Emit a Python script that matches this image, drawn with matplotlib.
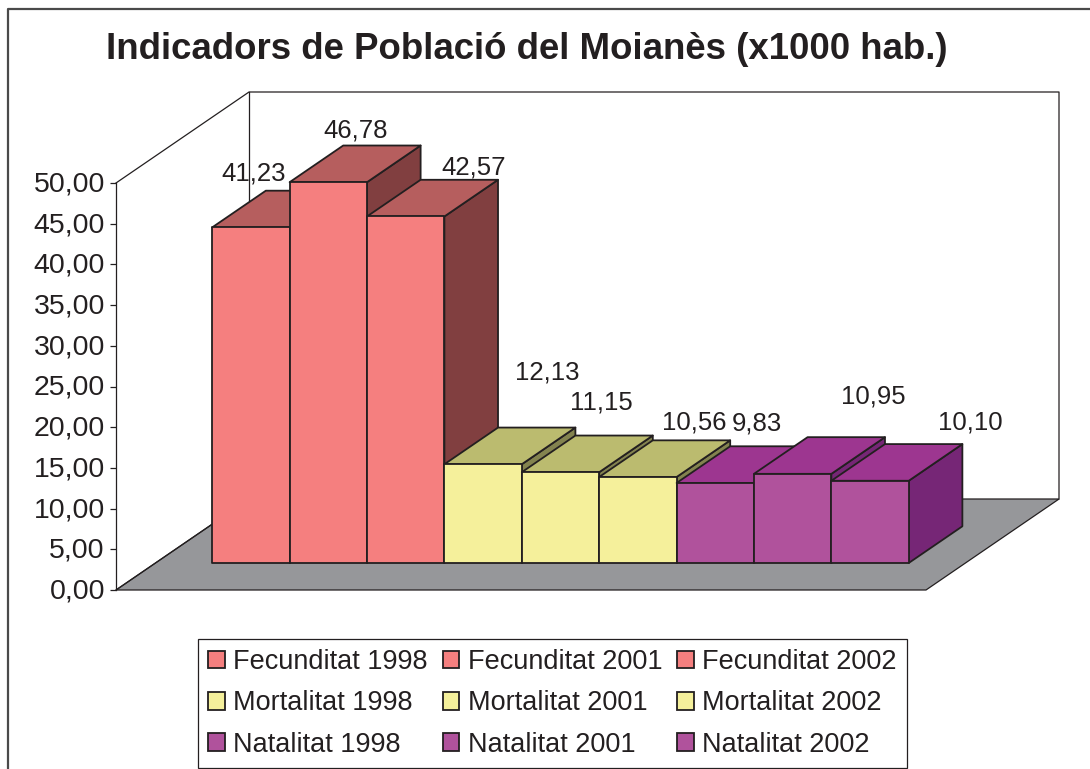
import matplotlib
matplotlib.use("Agg")
import matplotlib.pyplot as plt
from matplotlib.patches import Polygon, Patch
from matplotlib.lines import Line2D
from matplotlib.transforms import ScaledTranslation

plt.rcParams['font.family'] = ['Liberation Sans', 'DejaVu Sans']

TITLE = "Indicadors de Població del Moianès (x1000 hab.)"
categories = ["Fecunditat 1998", "Fecunditat 2001", "Fecunditat 2002",
              "Mortalitat 1998", "Mortalitat 2001", "Mortalitat 2002",
              "Natalitat 1998", "Natalitat 2001", "Natalitat 2002"]
values = [41.23, 46.78, 42.57, 12.13, 11.15, 10.56, 9.83, 10.95, 10.10]
value_labels = ["41,23", "46,78", "42,57", "12,13", "11,15", "10,56", "9,83", "10,95", "10,10"]
y_ticks = [0, 5, 10, 15, 20, 25, 30, 35, 40, 45, 50]
y_tick_labels = ["0,00", "5,00", "10,00", "15,00", "20,00", "25,00",
                 "30,00", "35,00", "40,00", "45,00", "50,00"]

# style / layout (not data)
INK = "#231f20"
FRONT = ["#f57f7f"] * 3 + ["#f5f09b"] * 3 + ["#b0529c"] * 3
TOP = ["#b65e5e"] * 3 + ["#bbbb6f"] * 3 + ["#9d3690"] * 3
SIDE = ["#813f40"] * 3 + ["#83834f"] * 3 + ["#762676"] * 3
FLOOR = "#96979a"
W, H = 1090, 769
AX_L, AX_R, AX_T, AX_B = 116, 926, 183, 590
MARGIN = 0.733
DEPTH_PX = (133, 91)
D0, D1 = 0.297, 0.70
# label offsets from the back-top-centre of each bar, in pixels
LABEL_OFF = [(-51, 17), (-26, 15), (14, 12), (11, 55), (-13, 33), (3, 18), (-12, 23), (27, 41), (47, 22)]

fig = plt.figure(figsize=(W / 100, H / 100), dpi=100, facecolor="white")
ax = fig.add_axes([AX_L / W, 1 - AX_B / H, (AX_R - AX_L) / W, (AX_B - AX_T) / H])
ax.set_xlim(-MARGIN, len(values) - 1 + 1 + MARGIN)
ax.set_ylim(0, 50)
ax.patch.set_visible(False)

sx = (AX_R - AX_L) / (len(values) + 2 * MARGIN)
sy = (AX_B - AX_T) / 50
DX, DY = DEPTH_PX[0] / sx, DEPTH_PX[1] / sy


def P(x, v, d=0.0):
    return (x + d * DX, v + d * DY)


x0, x1 = ax.get_xlim()
LW = 1.3
# floor
ax.add_patch(Polygon([P(x0, 0), P(x1, 0), P(x1, 0, 1), P(x0, 0, 1)], closed=True,
                     fc=FLOOR, ec=INK, lw=0.9, clip_on=False, zorder=1))
# walls
wall_kw = dict(color=INK, lw=0.9, clip_on=False, zorder=1.5, solid_capstyle="projecting")
ax.plot(*zip(P(x0, 50), P(x0, 50, 1), P(x1, 50, 1), P(x1, 0, 1)), **wall_kw)
ax.plot(*zip(P(x0, 50, 1), P(x0, 0, 1)), **wall_kw)
ax.plot(*zip(P(x0, 0), P(x0, 0, 1)), **wall_kw)

# bars, back-to-front left to right
for i, v in enumerate(values):
    a, b = i, i + 1
    z = 2 + i * 0.1
    kw = dict(closed=True, ec=INK, lw=LW, clip_on=False, zorder=z, joinstyle="round")
    ax.add_patch(Polygon([P(b, 0, D0), P(b, 0, D1), P(b, v, D1), P(b, v, D0)], fc=SIDE[i], **kw))
    ax.add_patch(Polygon([P(a, v, D0), P(b, v, D0), P(b, v, D1), P(a, v, D1)], fc=TOP[i], **kw))
    ax.add_patch(Polygon([P(a, 0, D0), P(b, 0, D0), P(b, v, D0), P(a, v, D0)], fc=FRONT[i], **kw))
    ax.annotate(value_labels[i], xy=P(i + 0.5, v, D1), xytext=LABEL_OFF[i],
                textcoords=("offset pixels"), ha="center", va="center",
                fontsize=18.5, color=INK, zorder=10, annotation_clip=False)

# axis
for s in ("top", "right", "bottom"):
    ax.spines[s].set_visible(False)
ax.spines["left"].set_color(INK)
ax.spines["left"].set_linewidth(0.9)
ax.set_xticks([])
ax.set_yticks(y_ticks)
ax.set_yticklabels(y_tick_labels, fontsize=20.5, color=INK)
ax.tick_params(axis="y", length=4.5, width=0.9, color=INK, pad=3.5)
nudge = ScaledTranslation(0, 1.5 / 100, fig.dpi_scale_trans)
for lab in ax.get_yticklabels():
    lab.set_transform(lab.get_transform() + nudge)

# title
fig.text(527 / W, 1 - 59 / H, TITLE, ha="center", va="baseline", fontsize=26.4,
         fontweight="bold", color=INK)

# legend (matplotlib fills columns first, so rows are reordered)
handles = [Patch(fc=FRONT[i], ec=INK, lw=LW, label=categories[i]) for i in range(9)]
order = [0, 3, 6, 1, 4, 7, 2, 5, 8]
leg = fig.legend([handles[i] for i in order], [categories[i] for i in order],
                 ncol=3, loc="upper left", bbox_to_anchor=(198 / W, 1 - 639 / H),
                 bbox_transform=fig.transFigure, borderaxespad=0,
                 fontsize=19.5, frameon=True, fancybox=False, edgecolor=INK,
                 framealpha=1, handlelength=0.62, handleheight=0.62, handletextpad=0.31,
                 columnspacing=0.55, labelspacing=0.565, borderpad=0.37)
leg.get_frame().set_linewidth(0.9)
for t in leg.get_texts():
    t.set_color(INK)

# outer chart border
fig.add_artist(Line2D([8 / W, 8 / W, 1], [0, 1 - 9 / H, 1 - 9 / H], color="#4a4a4a", lw=1.6))

fig.savefig("out.png", dpi=100, facecolor="white")
